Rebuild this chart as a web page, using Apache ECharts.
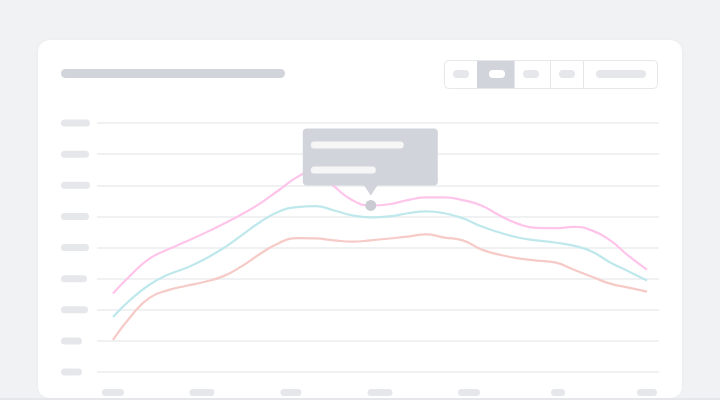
<!DOCTYPE html>
<html>
<head>
<meta charset="utf-8">
<script src="https://cdn.jsdelivr.net/npm/echarts@6/dist/echarts.min.js"></script>
<style>
  html, body { margin: 0; padding: 0; background: #f1f2f4; }
  #wrap { position: relative; width: 720px; height: 400px; overflow: hidden; }
  #card { position: absolute; left: 38px; top: 40px; width: 644px; height: 358px; background: #fff; border-radius: 12px; box-shadow: 0 0 4px rgba(0,0,0,0.03); }
  #edge { position: absolute; left: 0; bottom: 0; width: 720px; height: 2px; background: #e6e7eb; }
  #main { position: absolute; left: 0; top: 0; width: 720px; height: 400px; }
</style>
</head>
<body>
<div id="wrap">
  <div id="card"></div>
  <div id="edge"></div>
  <div id="main"></div>
</div>
<script>
// sample positions along x (30 samples)
const xValues = [0, 6, 12, 18, 24, 30, 36, 42, 48, 54, 60, 66, 72, 78, 84,
                 90, 96, 102, 108, 114, 120, 126, 132, 138, 144, 150, 156, 162, 168, 174];

// the three skeleton lines
const pinkValues = [2.52, 3.13, 3.65, 3.94, 4.20, 4.47, 4.76, 5.07, 5.42, 5.84, 6.26, 6.50, 5.97, 5.52, 5.35,
                    5.39, 5.52, 5.61, 5.61, 5.52, 5.35, 5.03, 4.76, 4.63, 4.62, 4.66, 4.55, 4.23, 3.73, 3.29];
const tealValues = [1.77, 2.35, 2.81, 3.13, 3.35, 3.63, 3.98, 4.40, 4.82, 5.15, 5.30, 5.33, 5.19, 5.03, 4.97,
                    5.00, 5.10, 5.16, 5.10, 4.94, 4.68, 4.48, 4.32, 4.23, 4.16, 4.06, 3.87, 3.52, 3.23, 2.94];
const salmonValues = [1.03, 1.81, 2.39, 2.63, 2.77, 2.90, 3.08, 3.40, 3.80, 4.14, 4.30, 4.29, 4.23, 4.19, 4.23,
                      4.29, 4.35, 4.42, 4.32, 4.23, 3.94, 3.77, 3.65, 3.58, 3.52, 3.29, 3.06, 2.84, 2.71, 2.58];

// ticks that get a placeholder label
const xTicks = [0, 29, 58, 87, 116, 145, 174];
const yTicks = [0, 1, 2, 3, 4, 5, 6, 7, 8];

// sample that the fake tooltip points at
const focusIndex = 14;

// pill widths for the placeholder labels (style only)
const xPillWidth = { 0: 22, 29: 25, 58: 21, 87: 25, 116: 22, 145: 14, 174: 20 };
const yPillWidth = { 0: 21, 1: 21, 2: 27, 3: 26, 4: 28, 5: 28, 6: 29, 7: 28, 8: 29 };

const pillColor = '#e5e7eb';
const darkPill = '#d1d4da';

function pillRich(widths) {
    const rich = {};
    Object.values(widths).forEach(function (w) {
        rich['p' + w] = { width: w, height: 7, lineHeight: 7, fontSize: 6, backgroundColor: pillColor, borderRadius: 3.5 };
    });
    return rich;
}

const chart = echarts.init(document.getElementById('main'), null, { renderer: 'canvas' });

function toPairs(vals) {
    return vals.map(function (v, i) { return [xValues[i], v]; });
}

function lineSeries(vals, color) {
    return {
        type: 'line',
        data: toPairs(vals),
        smooth: 0.5,
        showSymbol: false,
        silent: true,
        lineStyle: { color: color, width: 2.2 },
        itemStyle: { color: color }
    };
}

const option = {
    animation: false,
    backgroundColor: 'transparent',
    grid: { left: 97, right: 61, top: 123, bottom: 28 },
    xAxis: {
        type: 'value',
        min: -5.2,
        max: 177.9,
        axisLine: { show: false },
        axisTick: { show: false },
        splitLine: { show: false },
        axisLabel: {
            customValues: xTicks,
            margin: 17,
            formatter: function (v) { return '{p' + xPillWidth[v] + '| }'; },
            rich: pillRich(xPillWidth)
        }
    },
    yAxis: {
        type: 'value',
        min: 0,
        max: 8,
        interval: 1,
        axisLine: { show: false },
        axisTick: { show: false },
        splitLine: { lineStyle: { color: '#f0f1f3', width: 2 } },
        axisLabel: {
            align: 'left',
            margin: 36,
            formatter: function (v) { return '{p' + yPillWidth[v] + '| }'; },
            rich: pillRich(yPillWidth)
        }
    },
    series: [
        lineSeries(salmonValues, '#f6cac6'),
        lineSeries(tealValues, '#bfe8ec'),
        lineSeries(pinkValues, '#ffc4e9')
    ],
    graphic: [
        // title placeholder
        { type: 'rect', shape: { x: 61, y: 69, width: 224, height: 9, r: 4.5 }, style: { fill: darkPill } },
        // segmented buttons
        { type: 'rect', shape: { x: 444.5, y: 60.5, width: 213, height: 28, r: 4 }, style: { fill: '#fff', stroke: '#e6e7eb', lineWidth: 1 } },
        { type: 'rect', shape: { x: 477, y: 61, width: 37, height: 27 }, style: { fill: darkPill } },
        { type: 'line', shape: { x1: 514.5, y1: 61, x2: 514.5, y2: 88 }, style: { stroke: '#e6e7eb', lineWidth: 1 } },
        { type: 'line', shape: { x1: 550.5, y1: 61, x2: 550.5, y2: 88 }, style: { stroke: '#e6e7eb', lineWidth: 1 } },
        { type: 'line', shape: { x1: 583.5, y1: 61, x2: 583.5, y2: 88 }, style: { stroke: '#e6e7eb', lineWidth: 1 } },
        { type: 'rect', shape: { x: 453, y: 70, width: 16, height: 8, r: 4 }, style: { fill: pillColor } },
        { type: 'rect', shape: { x: 489, y: 70, width: 16, height: 8, r: 4 }, style: { fill: '#fff' } },
        { type: 'rect', shape: { x: 523, y: 70, width: 16, height: 8, r: 4 }, style: { fill: pillColor } },
        { type: 'rect', shape: { x: 559, y: 70, width: 16, height: 8, r: 4 }, style: { fill: pillColor } },
        { type: 'rect', shape: { x: 596, y: 70, width: 50, height: 8, r: 4 }, style: { fill: pillColor } }
    ]
};

chart.setOption(option);

// fake tooltip anchored on the pink line through the axis scales
const p = chart.convertToPixel({ xAxisIndex: 0, yAxisIndex: 0 }, [xValues[focusIndex], pinkValues[focusIndex]]);
const px = p[0], py = p[1];

chart.setOption({
    graphic: option.graphic.concat([
        { type: 'circle', z: 100, shape: { cx: px, cy: py, r: 5.5 }, style: { fill: '#c9ccd2' } },
        { type: 'rect', z: 100, shape: { x: px - 68, y: py - 77, width: 135, height: 57, r: 4 }, style: { fill: darkPill } },
        { type: 'polygon', z: 100, shape: { points: [[px - 7, py - 20.5], [px + 7, py - 20.5], [px, py - 10]] }, style: { fill: darkPill } },
        { type: 'rect', z: 101, shape: { x: px - 60, y: py - 64, width: 93, height: 7, r: 3.5 }, style: { fill: '#f6f6f7' } },
        { type: 'rect', z: 101, shape: { x: px - 60, y: py - 39, width: 65, height: 7, r: 3.5 }, style: { fill: '#f6f6f7' } }
    ])
});
</script>
</body>
</html>
